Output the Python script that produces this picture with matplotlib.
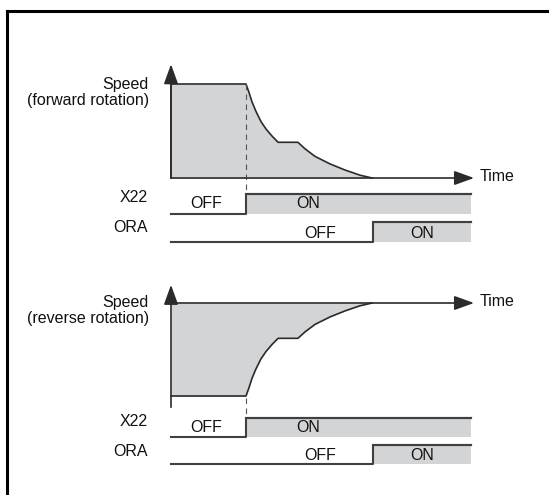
import matplotlib
matplotlib.use('Agg')
import matplotlib.pyplot as plt
from matplotlib.lines import Line2D

plt.rcParams['font.family'] = ['Liberation Sans', 'DejaVu Sans']
plt.rcParams['font.size'] = 11.5

# ---- data (time in arbitrary units, speed in % of set speed) ----
t_speed = [0, 2.5, 2.6, 2.7, 2.83, 3.0, 3.17, 3.37, 3.57,
           4.23, 4.47, 4.8, 5.3, 5.8, 6.3, 6.7]
speed_fwd = [100, 100, 91, 81, 71, 60, 52, 44.5, 38,
             38, 31, 23, 15, 8.5, 3, 0]
speed_rev = [-100, -100, -91, -81, -71, -60, -52, -44.5, -38,
             -38, -31, -23, -15, -8.5, -3, 0]
t_end = 10

x22_t = [0, 2.5, t_end]
x22_state = [0, 1, 1]
ora_t = [0, 6.73, t_end]
ora_state = [0, 1, 1]

row_labels = ['X22', 'ORA']
state_text = ['OFF', 'ON']
speed_labels = [('Speed', '(forward rotation)'), ('Speed', '(reverse rotation)')]

# ---- style ----
W, H = 549, 495
dark = '#2b2b2b'
sig = '#404040'
gray = '#d3d4d6'
lw = 1.2

fig = plt.figure(figsize=(W / 100, H / 100), dpi=100)


def px_axes(top, bottom):
    # axes covering t = 0..10 horizontally, pixel rows top..bottom
    ax = fig.add_axes([171 / W, 1 - bottom / H, 300 / W, (bottom - top) / H])
    ax.set_xlim(0, t_end)
    ax.axis('off')
    ax.patch.set_alpha(0)
    return ax


def arrow(ax, start, tip):
    ax.annotate('', xy=tip, xytext=start, annotation_clip=False,
                arrowprops=dict(arrowstyle='-|>,head_length=1.05,head_width=0.38',
                                color=dark, lw=lw, shrinkA=0, shrinkB=0))


def signal(ax, t, state, text_pos):
    ax.set_ylim(0, 1)
    ax.fill_between(t, 0, state, step='post', color=gray, lw=0)
    ax.step(t, state, where='post', color=sig, lw=1.5, clip_on=False)
    ax.plot([t[-2], t[-1]], [state[-1], state[-1]], color=sig, lw=1.5, clip_on=False)
    for (x, y), s in zip(text_pos, state_text):
        ax.text(x, y, s, ha='center', va='center', color='#111111')


# ---------------- forward rotation ----------------
ax = px_axes(84, 178)
ax.set_ylim(0, 100)
ax.fill_between(t_speed, 0, speed_fwd, color=gray, lw=0)
ax.plot(t_speed, speed_fwd, color=dark, lw=lw, clip_on=False)
ax.plot([0, 0], [0, 100], color=dark, lw=lw, clip_on=False)
arrow(ax, (0, 0), (0, 121))
arrow(ax, (0, 0), (10.1, 0))
ax.plot([2.5, 2.5], [100, -17], color='#555555', lw=0.8, ls=(0, (5, 4)), clip_on=False)

ax = px_axes(194, 214)
signal(ax, x22_t, x22_state, [(1.17, 0.5), (4.57, 0.5)])
ax = px_axes(222, 242)
signal(ax, ora_t, ora_state, [(4.97, 0.45), (8.37, 0.45)])

# ---------------- reverse rotation ----------------
ax = px_axes(303, 396)
ax.set_ylim(-100, 0)
ax.fill_between(t_speed, 0, speed_rev, color=gray, lw=0)
ax.plot(t_speed, speed_rev, color=dark, lw=lw, clip_on=False)
ax.plot([0, 0], [-112, 0], color=dark, lw=lw, clip_on=False)
arrow(ax, (0, 0), (0, 19.5))
arrow(ax, (0, 0), (10.1, 0))
ax.plot([2.5, 2.5], [-102, -124], color='#555555', lw=0.8, ls=(0, (5, 4)), clip_on=False)

ax = px_axes(418, 437)
signal(ax, x22_t, x22_state, [(1.17, 0.5), (4.57, 0.5)])
ax = px_axes(445, 464)
signal(ax, ora_t, ora_state, [(4.97, 0.45), (8.37, 0.45)])

# ---------------- labels ----------------
for (top_txt, sub_txt), y0 in zip(speed_labels, [84, 303]):
    fig.text(149 / W, 1 - y0 / H, top_txt, ha='right', va='center', color='#111111')
    fig.text(149 / W, 1 - (y0 + 16) / H, sub_txt, ha='right', va='center', color='#111111')
for y0 in [177, 303]:
    fig.text(480 / W, 1 - (y0 - 1) / H, 'Time', ha='left', va='center', color='#111111')
for ys in [(198, 227), (422, 452)]:
    for lab, y0 in zip(row_labels, ys):
        fig.text(148 / W, 1 - y0 / H, lab, ha='right', va='center', color='#111111')

# frame (top and left edge only, the rest is cut off)
fig.add_artist(Line2D([7 / W, 1], [1 - 11 / H, 1 - 11 / H], color='black', lw=2.2,
                      transform=fig.transFigure))
fig.add_artist(Line2D([7 / W, 7 / W], [0, 1 - 11 / H], color='black', lw=2.2,
                      transform=fig.transFigure))

fig.savefig('out.png', dpi=100)
